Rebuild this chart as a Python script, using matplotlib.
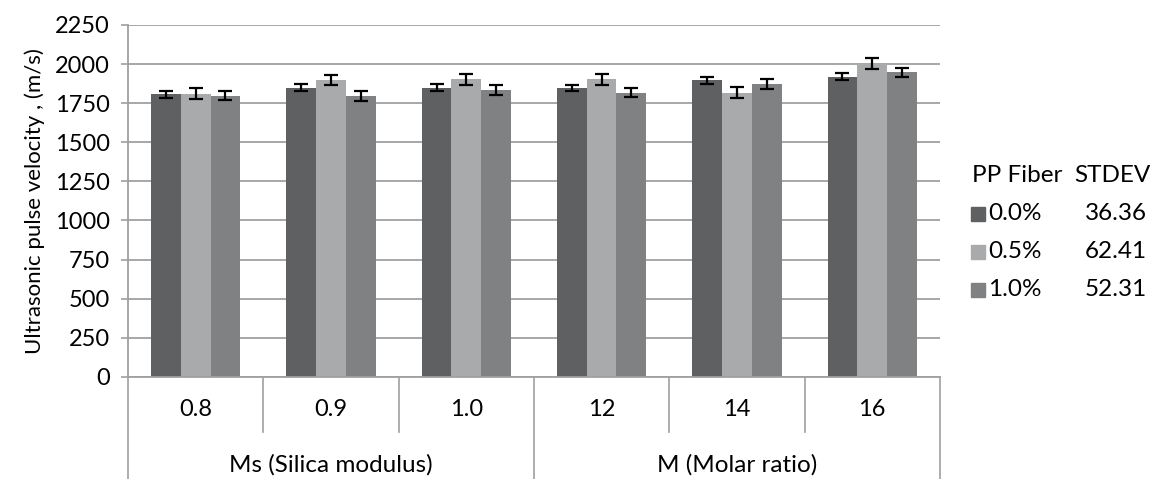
import numpy as np
import matplotlib.pyplot as plt
from matplotlib.patches import Rectangle

# categories and series values
categories = ["0.8", "0.9", "1.0", "12", "14", "16"]
groups = ["Ms (Silica modulus)", "M (Molar ratio)"]
series = ["0.0%", "0.5%", "1.0%"]
stdev_labels = ["36.36", "62.41", "52.31"]

fiber_00 = [1806, 1848, 1848, 1848, 1897, 1919]
fiber_05 = [1810, 1897, 1902, 1902, 1818, 2003]
fiber_10 = [1797, 1797, 1833, 1818, 1870, 1946]

err_00 = [22, 22, 22, 21, 23, 24]
err_05 = [35, 34, 34, 34, 35, 35]
err_10 = [29, 31, 30, 31, 32, 31]

colors = ["#5f6062", "#a9aaac", "#808183"]

plt.rcParams['font.family'] = ['Lato', 'DejaVu Sans']

fig = plt.figure(figsize=(11.5, 4.79), dpi=100)
ax = fig.add_axes([0.1113, 0.213, 0.706, 0.735])

x = np.arange(len(categories))
w = 0.22
values = [fiber_00, fiber_05, fiber_10]
errs = [err_00, err_05, err_10]
for i in range(3):
    ax.bar(x + (i - 1) * w, values[i], w, color=colors[i], zorder=2)
    ax.errorbar(x + (i - 1) * w, values[i], yerr=errs[i], fmt='none',
                ecolor='black', elinewidth=1.6, capsize=5, capthick=1.6, zorder=3)

ax.set_xlim(-0.5, len(categories) - 0.5)
ax.set_ylim(0, 2250)
ax.set_yticks(np.arange(0, 2251, 250))
ax.yaxis.grid(True, color='#a0a0a0', linewidth=1.3, zorder=0)
ax.set_axisbelow(True)
ax.tick_params(axis='y', labelsize=17, length=5, color='#a0a0a0', width=1.2, pad=8)
ax.set_xticks([])
for s in ['top', 'right']:
    ax.spines[s].set_visible(False)
ax.spines['left'].set_color('#a0a0a0')
ax.spines['left'].set_linewidth(1.3)
ax.spines['bottom'].set_color('#a0a0a0')
ax.spines['bottom'].set_linewidth(1.3)
ax.set_ylabel("Ultrasonic pulse velocity , (m/s)", fontsize=16, labelpad=7)

# multi-level category axis
trans = ax.get_xaxis_transform()
for i, c in enumerate(categories):
    ax.text(i, -0.093, c, transform=trans, ha='center', va='center', fontsize=17)
for b in np.arange(0.5, len(categories) - 1, 1.0):
    if b == 2.5:
        continue
    ax.plot([b, b], [0, -0.156], transform=trans, color='#a0a0a0', lw=1.2, clip_on=False)
for b in [-0.5, 2.5, len(categories) - 0.5]:
    ax.plot([b, b], [0, -0.30], transform=trans, color='#a0a0a0', lw=1.2, clip_on=False)
ax.text(1, -0.25, groups[0], transform=trans, ha='center', va='center', fontsize=17.5)
ax.text(4, -0.25, groups[1], transform=trans, ha='center', va='center', fontsize=17.5)

# legend with STDEV column
fig.text(0.845, 1 - 176 / 479, "PP Fiber", fontsize=17.5, va='center')
fig.text(0.934, 1 - 176 / 479, "STDEV", fontsize=17.5, va='center')
for i, lab in enumerate(series):
    yy = 1 - (214 + i * 38) / 479
    fig.patches.append(Rectangle((0.8445, yy - 0.0145), 0.0118, 0.029,
                                 transform=fig.transFigure, color=colors[i]))
    fig.text(0.859, yy, lab, fontsize=17.5, va='center')
    fig.text(0.943, yy, stdev_labels[i], fontsize=17.5, va='center')

fig.savefig("out.png", dpi=100)
